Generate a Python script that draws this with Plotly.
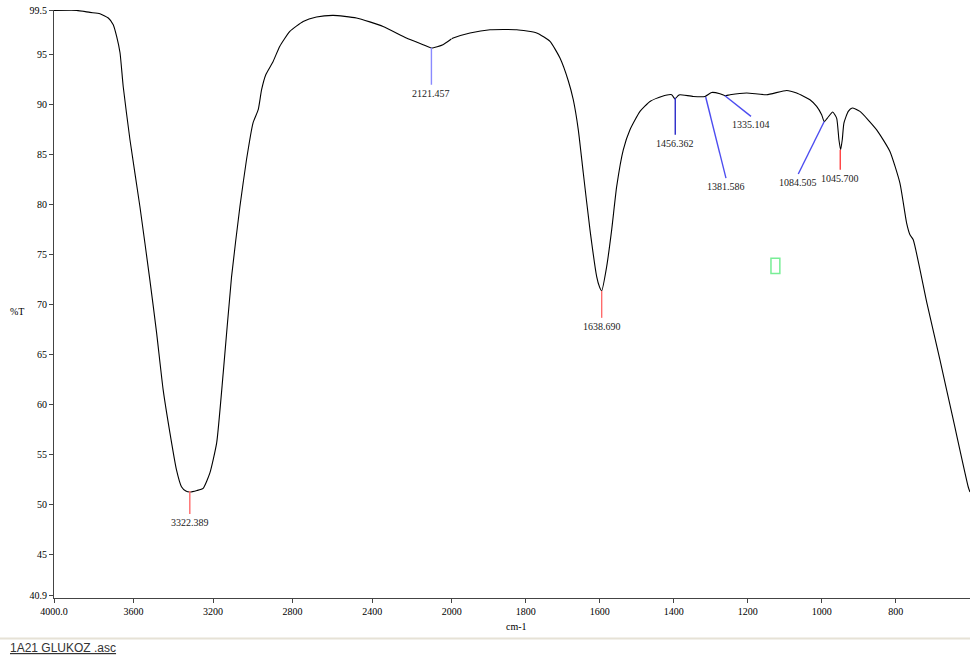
import plotly.graph_objects as go

# ---------------- data ----------------
# high-wavenumber region 4000-2000 cm-1
wn_hi = [4000, 3886, 3819, 3769, 3727, 3702, 3685, 3668, 3652, 3618, 3568, 3518, 3484,
         3451, 3417, 3384, 3359, 3337, 3317, 3281, 3250, 3216, 3182, 3149, 3107, 3065,
         3032, 2999, 2973, 2956, 2935, 2898, 2865, 2814, 2747, 2680, 2596, 2479, 2345,
         2228, 2144, 2102, 2044, 2000]
t_hi = [99.45, 99.46, 99.26, 99.13, 98.70, 98.03, 96.86, 95.22, 91.85, 86.51, 79.83, 72.49, 67.19,
        61.48, 57.18, 53.47, 51.79, 51.36, 51.26, 51.41, 51.63, 53.17, 56.17, 63.18, 72.82, 79.83,
        84.51, 88.21, 89.52, 91.52, 93.02, 94.35, 95.85, 97.36, 98.36, 98.80, 98.96, 98.70, 97.86,
        96.70, 96.03, 95.69, 96.03, 96.63]

# low-wavenumber region 2000-599 cm-1
wn_lo = [2000, 1996, 1950.5, 1896.5, 1824.3, 1770.3, 1734.3, 1707.3, 1684.9, 1671.4, 1657.8,
         1644.3, 1626.2, 1608.1, 1600.5, 1594.6, 1581.1, 1567.6, 1554.0, 1536.2, 1518.1, 1491.0,
         1464.0, 1432.4, 1405.4, 1396.5, 1387.6, 1383.0, 1347.0, 1315.4, 1297.3, 1274.9, 1261.4,
         1247.8, 1202.7, 1148.7, 1094.6, 1067.6, 1031.6, 1013.5, 1000.0, 993.0, 982.2, 970.3,
         959.5, 953.3, 948.7, 944.3, 939.8, 928.1, 917.3, 896.5, 851.3, 815.4, 788.4, 770.3,
         761.3, 752.4, 716.2, 680.2, 644.1, 603.7, 599.0]
t_lo = [96.63, 96.70, 97.20, 97.53, 97.53, 97.20, 96.36, 94.69, 92.42, 90.52, 87.51,
        83.18, 77.50, 72.82, 71.79, 71.39, 73.82, 77.50, 81.84, 85.51, 87.51, 89.35,
        90.35, 90.85, 91.02, 90.59, 90.95, 91.02, 90.85, 90.85, 91.25, 91.12, 90.92,
        91.02, 91.19, 91.02, 91.45, 91.19, 90.52, 89.85, 89.02, 88.34, 88.79, 89.29,
        88.68, 86.51, 85.51, 86.51, 88.18, 89.35, 89.69, 89.35, 87.51, 85.34, 82.17, 78.17,
        77.00, 76.50, 70.29, 64.48, 58.47, 51.76, 51.26]

# peak labels: text, marker start (on curve), marker end (label anchor), axis, colour
peak_text = ["3322.389", "2121.457", "1638.690", "1456.362", "1381.586", "1335.104", "1084.505", "1045.700"]
peak_x0 = [3317, 2102, 1594.6, 1395.7, 1313.5, 1261.4, 993.0, 949.7]
peak_y0 = [51.36, 95.72, 71.39, 90.72, 90.79, 90.92, 88.34, 85.51]
peak_x1 = [3317, 2102, 1594.6, 1395.7, 1258.6, 1191.0, 1063.2, 949.7]
peak_y1 = [49.06, 92.02, 68.69, 87.02, 82.68, 88.85, 83.08, 83.50]
peak_axis = ["x", "x", "x2", "x2", "x2", "x2", "x2", "x2"]
peak_color = ["#ff6b6b", "#8a8aff", "#ff6b6b", "#2a2ac8", "#4c4cf0", "#4c4cf0", "#4c4cf0", "#ff4040"]

ticks_hi = [4000, 3600, 3200, 2800, 2400]
ticks_hi_text = ["4000.0", "3600", "3200", "2800", "2400"]
ticks_lo = [2000, 1800, 1600, 1400, 1200, 1000, 800]
ticks_lo_text = ["2000", "1800", "1600", "1400", "1200", "1000", "800"]
ticks_y = [99.5, 95, 90, 85, 80, 75, 70, 65, 60, 55, 50, 45, 40.9]
ticks_y_text = ["99.5", "95", "90", "85", "80", "75", "70", "65", "60", "55", "50", "45", "40.9"]

# ---------------- figure ----------------
SERIF = "Liberation Serif, Times New Roman, serif"
W, H = 970, 661
ML, MR, MT, MB = 54, 0, 10, 63
split = (451.7 - ML) / (W - ML - MR)

fig = go.Figure()
fig.add_trace(go.Scatter(x=wn_hi, y=t_hi, mode="lines", xaxis="x", yaxis="y",
                         line=dict(color="#000000", width=1.1, shape="spline", smoothing=0.5),
                         hoverinfo="x+y", showlegend=False))
fig.add_trace(go.Scatter(x=wn_lo, y=t_lo, mode="lines", xaxis="x2", yaxis="y",
                         line=dict(color="#000000", width=1.1, shape="spline", smoothing=0.5),
                         hoverinfo="x+y", showlegend=False))

shapes = []
annotations = []
for txt, x0, y0, x1, y1, ax, col in zip(peak_text, peak_x0, peak_y0, peak_x1, peak_y1, peak_axis, peak_color):
    shapes.append(dict(type="line", xref=ax, yref="y", x0=x0, y0=y0, x1=x1, y1=y1,
                       line=dict(color=col, width=1.4)))
    annotations.append(dict(xref=ax, yref="y", x=x1, y=y1, text=txt, showarrow=False,
                            xanchor="center", yanchor="top", yshift=-1,
                            font=dict(family=SERIF, size=10, color="#222222")))

# small green cursor marker
shapes.append(dict(type="rect", xref="x2", yref="y", x0=1137, x1=1113, y0=73.12, y1=74.66,
                   line=dict(color="#78ee96", width=1.5)))

plot_w = W - ML - MR
plot_h = H - MT - MB
# separator line below the chart
shapes.append(dict(type="line", xref="paper", yref="paper", x0=-ML / plot_w, x1=1,
                   y0=(598 - 638.5) / plot_h, y1=(598 - 638.5) / plot_h,
                   line=dict(color="#e6e2d6", width=2)))

annotations.append(dict(xref="paper", yref="paper", x=(17 - ML) / plot_w, y=(598 - 311) / plot_h,
                        text="%T", showarrow=False, xanchor="center", yanchor="middle",
                        font=dict(family=SERIF, size=10, color="#000000")))
annotations.append(dict(xref="paper", yref="paper", x=(516.7 - ML) / plot_w, y=(598 - 626) / plot_h,
                        text="cm-1", showarrow=False, xanchor="center", yanchor="middle",
                        font=dict(family=SERIF, size=10, color="#000000")))
annotations.append(dict(xref="paper", yref="paper", x=(8 - ML) / plot_w, y=(598 - 648) / plot_h,
                        text="<u>1A21 GLUKOZ .asc</u>", showarrow=False, xanchor="left", yanchor="middle",
                        font=dict(family="Liberation Sans, Arial, sans-serif", size=12, color="#333333")))

axis_common = dict(showgrid=False, zeroline=False, showline=True, linecolor="#444444", linewidth=1,
                   ticks="outside", ticklen=4, tickcolor="#444444",
                   tickfont=dict(family=SERIF, size=10, color="#000000"))

fig.update_layout(
    width=W, height=H,
    margin=dict(l=ML, r=MR, t=MT, b=MB, pad=0),
    paper_bgcolor="white", plot_bgcolor="white",
    xaxis=dict(domain=[0, split], range=[4000, 2000], tickvals=ticks_hi, ticktext=ticks_hi_text,
               anchor="y", **axis_common),
    xaxis2=dict(domain=[split, 1], range=[2000, 599], tickvals=ticks_lo, ticktext=ticks_lo_text,
                anchor="y", **axis_common),
    yaxis=dict(range=[40.65, 99.5], tickvals=ticks_y, ticktext=ticks_y_text, anchor="x", **axis_common),
    shapes=shapes,
    annotations=annotations,
    showlegend=False,
)

fig.write_html("out.html", config={"displayModeBar": False},
               post_script="document.body.style.margin='0';document.body.style.overflow='hidden';")
